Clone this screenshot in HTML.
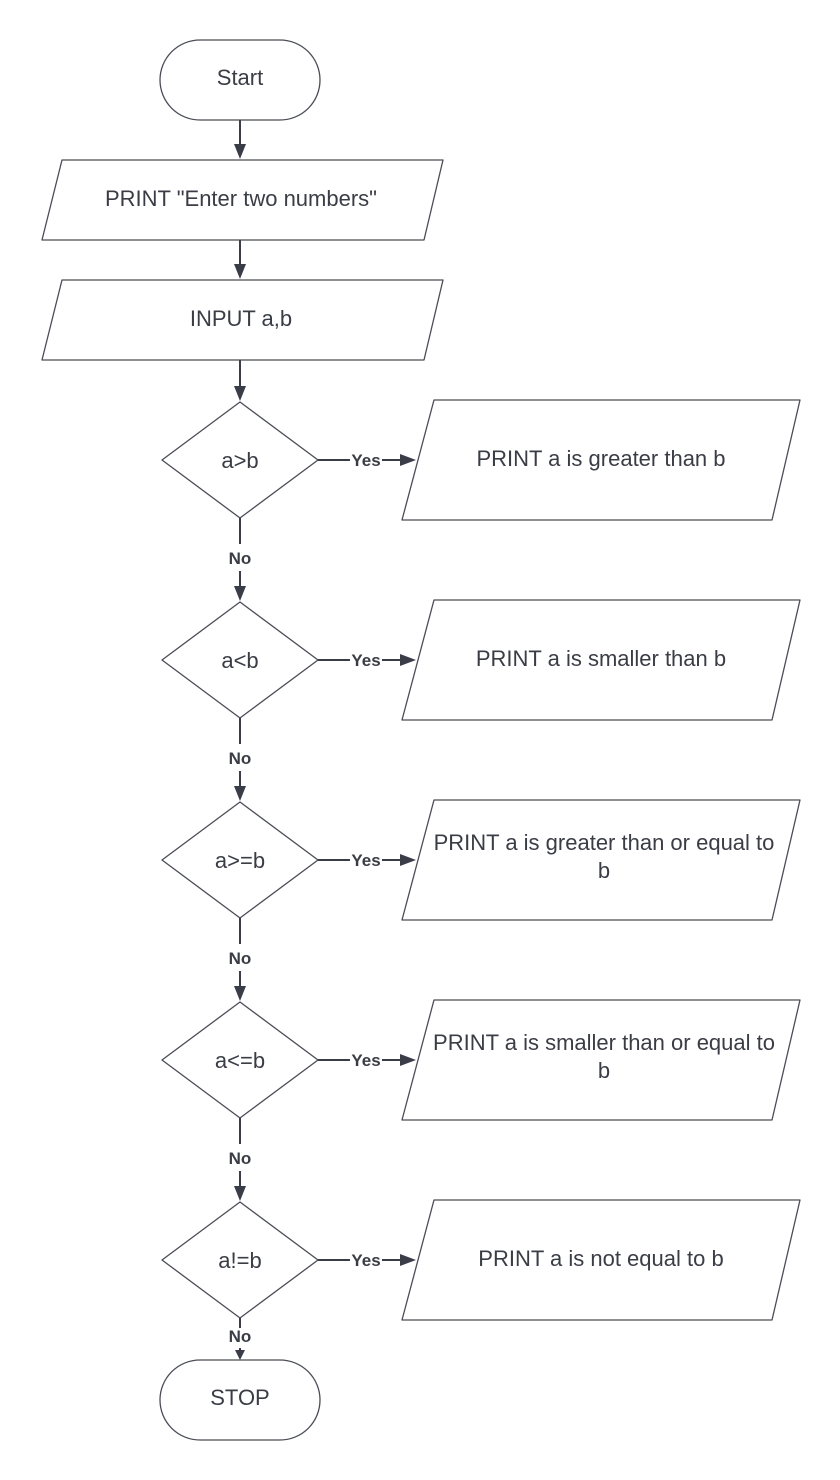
<!DOCTYPE html>
<html><head><meta charset="utf-8"><style>
html,body{margin:0;padding:0;background:#fff;width:840px;height:1480px;overflow:hidden}
svg{display:block}
text{font-family:"Liberation Sans",Arial,sans-serif;fill:#3a3d45}
.t{font-size:22px}
.l{font-size:17px;font-weight:bold}
.s{fill:#fff;stroke:#4a4d55;stroke-width:1.3;stroke-linejoin:round}
.c{stroke:#3a3d47;stroke-width:2;fill:none}
.a{fill:#3a3d47}
</style></head><body>
<svg width="840" height="1480" viewBox="0 0 840 1480" xmlns="http://www.w3.org/2000/svg">
<rect class="s" x="160" y="40" width="160" height="80" rx="40" ry="40"/>
<text class="t" x="240" y="85" text-anchor="middle">Start</text>
<line class="c" x1="240" y1="120" x2="240" y2="146"/><polygon class="a" points="234,144 246,144 240,159"/>
<path class="s" d="M62,160 L443,160 L424,240 L42,240 Z"/>
<text class="t" x="241" y="206" text-anchor="middle">PRINT "Enter two numbers"</text>
<line class="c" x1="240" y1="240" x2="240" y2="266"/><polygon class="a" points="234,264 246,264 240,279"/>
<path class="s" d="M62,280 L443,280 L424,360 L42,360 Z"/>
<text class="t" x="241" y="326" text-anchor="middle">INPUT a,b</text>
<line class="c" x1="240" y1="360" x2="240" y2="388"/><polygon class="a" points="234,386 246,386 240,401"/>

<g>
<polygon class="s" points="240,402 318,460 240,518 162,460"/>
<text class="t" x="240" y="468" text-anchor="middle">a&gt;b</text>
<line class="c" x1="318" y1="460" x2="350" y2="460"/><text class="l" x="366" y="466" text-anchor="middle">Yes</text>
<line class="c" x1="382" y1="460" x2="402" y2="460"/><polygon class="a" points="400,454 400,466 416,460"/>
<path class="s" d="M434,400 L800,400 L772,520 L402,520 Z"/>
<text class="t" x="601" y="466" text-anchor="middle">PRINT a is greater than b</text>
<line class="c" x1="240" y1="518" x2="240" y2="544"/><text class="l" x="240" y="564" text-anchor="middle">No</text>
<line class="c" x1="240" y1="571" x2="240" y2="588"/><polygon class="a" points="234,586 246,586 240,601"/>
</g>
<g transform="translate(0,200)">
<polygon class="s" points="240,402 318,460 240,518 162,460"/>
<text class="t" x="240" y="468" text-anchor="middle">a&lt;b</text>
<line class="c" x1="318" y1="460" x2="350" y2="460"/><text class="l" x="366" y="466" text-anchor="middle">Yes</text>
<line class="c" x1="382" y1="460" x2="402" y2="460"/><polygon class="a" points="400,454 400,466 416,460"/>
<path class="s" d="M434,400 L800,400 L772,520 L402,520 Z"/>
<text class="t" x="601" y="466" text-anchor="middle">PRINT a is smaller than b</text>
<line class="c" x1="240" y1="518" x2="240" y2="544"/><text class="l" x="240" y="564" text-anchor="middle">No</text>
<line class="c" x1="240" y1="571" x2="240" y2="588"/><polygon class="a" points="234,586 246,586 240,601"/>
</g>
<g transform="translate(0,400)">
<polygon class="s" points="240,402 318,460 240,518 162,460"/>
<text class="t" x="240" y="468" text-anchor="middle">a&gt;=b</text>
<line class="c" x1="318" y1="460" x2="350" y2="460"/><text class="l" x="366" y="466" text-anchor="middle">Yes</text>
<line class="c" x1="382" y1="460" x2="402" y2="460"/><polygon class="a" points="400,454 400,466 416,460"/>
<path class="s" d="M434,400 L800,400 L772,520 L402,520 Z"/>
<text class="t" x="604" y="450" text-anchor="middle">PRINT a is greater than or equal to</text>
<text class="t" x="604" y="478" text-anchor="middle">b</text>
<line class="c" x1="240" y1="518" x2="240" y2="544"/><text class="l" x="240" y="564" text-anchor="middle">No</text>
<line class="c" x1="240" y1="571" x2="240" y2="588"/><polygon class="a" points="234,586 246,586 240,601"/>
</g>
<g transform="translate(0,600)">
<polygon class="s" points="240,402 318,460 240,518 162,460"/>
<text class="t" x="240" y="468" text-anchor="middle">a&lt;=b</text>
<line class="c" x1="318" y1="460" x2="350" y2="460"/><text class="l" x="366" y="466" text-anchor="middle">Yes</text>
<line class="c" x1="382" y1="460" x2="402" y2="460"/><polygon class="a" points="400,454 400,466 416,460"/>
<path class="s" d="M434,400 L800,400 L772,520 L402,520 Z"/>
<text class="t" x="604" y="450" text-anchor="middle">PRINT a is smaller than or equal to</text>
<text class="t" x="604" y="478" text-anchor="middle">b</text>
<line class="c" x1="240" y1="518" x2="240" y2="544"/><text class="l" x="240" y="564" text-anchor="middle">No</text>
<line class="c" x1="240" y1="571" x2="240" y2="588"/><polygon class="a" points="234,586 246,586 240,601"/>
</g>
<g transform="translate(0,800)">
<polygon class="s" points="240,402 318,460 240,518 162,460"/>
<text class="t" x="240" y="468" text-anchor="middle">a!=b</text>
<line class="c" x1="318" y1="460" x2="350" y2="460"/><text class="l" x="366" y="466" text-anchor="middle">Yes</text>
<line class="c" x1="382" y1="460" x2="402" y2="460"/><polygon class="a" points="400,454 400,466 416,460"/>
<path class="s" d="M434,400 L800,400 L772,520 L402,520 Z"/>
<text class="t" x="601" y="466" text-anchor="middle">PRINT a is not equal to b</text>
<line class="c" x1="240" y1="518" x2="240" y2="528"/><text class="l" x="240" y="542" text-anchor="middle">No</text>
<line class="c" x1="240" y1="548" x2="240" y2="552"/><polygon class="a" points="235,550 245,550 240,560"/>
</g>
<rect class="s" x="160" y="1360" width="160" height="80" rx="40" ry="40"/>
<text class="t" x="240" y="1405" text-anchor="middle">STOP</text>
</svg>
</body></html>
